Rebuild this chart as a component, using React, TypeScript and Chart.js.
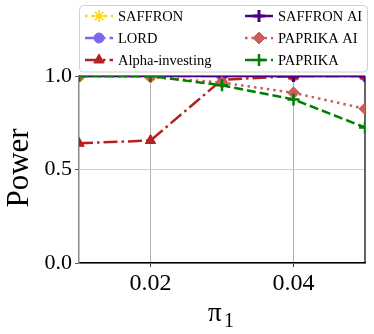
import React, { useEffect, useRef } from "react";
import { Chart, registerables } from "chart.js";
import { drawPoint } from "chart.js/helpers";

Chart.register(...registerables);

const xValues = [0.01, 0.02, 0.03, 0.04, 0.05];
const xTicks = [0.02, 0.04];
const yTicks = [0, 0.5, 1.0];

const saffron = [1.0, 1.0, 1.0, 1.0, 1.0];
const lord = [1.0, 1.0, 1.0, 1.0, 1.0];
const alphaInvesting = [0.64, 0.655, 0.98, 1.0, 1.0];
const saffronAI = [1.0, 1.0, 1.0, 1.0, 1.0];
const paprikaAI = [1.0, 0.995, 0.965, 0.91, 0.825];
const paprika = [1.0, 1.0, 0.95, 0.875, 0.725];

const seriesNames = ["SAFFRON", "LORD", "Alpha-investing", "SAFFRON AI", "PAPRIKA AI", "PAPRIKA"];
const seriesValues = [saffron, lord, alphaInvesting, saffronAI, paprikaAI, paprika];
const seriesColors = ["#FFD700", "#7B68EE", "#B22222", "#4B0082", "#CD5C5C", "#008000"];
const seriesDash = [[2.5, 4], [14, 4, 2.5, 4], [14, 4, 2.5, 4], [], [2.5, 4], [9, 4]];
const seriesMarker = ["star", "circle", "triangle", "cross", "rectRot", "cross"];
const seriesMarkerRadius = [6, 5, 6, 6, 6, 6];
const seriesMarkerBorder = [1.5, 1, 1, 3, 1, 2.5];

const SERIF = "'Liberation Serif', 'DejaVu Serif', serif";

const extrasPlugin = {
  id: "extras",
  beforeDatasetsDraw(chart: any) {
    const { ctx, chartArea } = chart;
    ctx.save();
    ctx.strokeStyle = "#000";
    ctx.lineWidth = 1.2;
    ctx.beginPath();
    ctx.moveTo(chartArea.right, chartArea.top);
    ctx.lineTo(chartArea.right, chartArea.bottom);
    ctx.moveTo(chartArea.left, chartArea.top);
    ctx.lineTo(chartArea.right, chartArea.top);
    ctx.stroke();
    ctx.restore();
  },
  afterDraw(chart: any) {
    const { ctx } = chart;
    ctx.save();
    ctx.fillStyle = "#000";
    ctx.font = `31px ${SERIF}`;
    ctx.translate(28, 168);
    ctx.rotate(-Math.PI / 2);
    ctx.textAlign = "center";
    ctx.textBaseline = "alphabetic";
    ctx.fillText("Power", 0, 0);
    ctx.restore();

    ctx.save();
    ctx.fillStyle = "#000";
    ctx.textAlign = "left";
    ctx.textBaseline = "alphabetic";
    ctx.font = `27px ${SERIF}`;
    ctx.fillText("π", 208, 321);
    ctx.font = `20px ${SERIF}`;
    ctx.fillText("1", 224, 327);
    ctx.restore();

    ctx.save();
    const bx = 79.5, by = 5.5, bw = 288, bh = 66.5, r = 4;
    ctx.beginPath();
    ctx.moveTo(bx + r, by);
    ctx.lineTo(bx + bw - r, by);
    ctx.arcTo(bx + bw, by, bx + bw, by + r, r);
    ctx.lineTo(bx + bw, by + bh - r);
    ctx.arcTo(bx + bw, by + bh, bx + bw - r, by + bh, r);
    ctx.lineTo(bx + r, by + bh);
    ctx.arcTo(bx, by + bh, bx, by + bh - r, r);
    ctx.lineTo(bx, by + r);
    ctx.arcTo(bx, by, bx + r, by, r);
    ctx.closePath();
    ctx.fillStyle = "rgba(255,255,255,0.85)";
    ctx.fill();
    ctx.strokeStyle = "#d0d0d0";
    ctx.lineWidth = 1;
    ctx.stroke();

    const rowsY = [16, 38, 60];
    const colX = [85, 245];
    const sampleW = 28;
    seriesNames.forEach((name, i) => {
      const col = Math.floor(i / 3);
      const row = i % 3;
      const x0 = colX[col];
      const y = rowsY[row];
      ctx.save();
      ctx.strokeStyle = seriesColors[i];
      ctx.lineWidth = 2.5;
      ctx.setLineDash(seriesDash[i]);
      ctx.beginPath();
      ctx.moveTo(x0, y);
      ctx.lineTo(x0 + sampleW, y);
      ctx.stroke();
      ctx.setLineDash([]);
      ctx.fillStyle = seriesColors[i];
      ctx.strokeStyle = seriesColors[i];
      ctx.lineWidth = seriesMarkerBorder[i];
      drawPoint(ctx, { pointStyle: seriesMarker[i], radius: seriesMarkerRadius[i], rotation: 0, borderWidth: seriesMarkerBorder[i] } as any, x0 + sampleW / 2, y);
      ctx.restore();
      ctx.fillStyle = "#000";
      ctx.font = `14.5px ${SERIF}`;
      ctx.textAlign = "left";
      ctx.textBaseline = "middle";
      ctx.fillText(name, x0 + sampleW + 5, y + 1);
    });
    ctx.restore();
  },
};

export default function App() {
  const canvasRef = useRef<HTMLCanvasElement | null>(null);

  useEffect(() => {
    document.body.style.margin = "0";
    const canvas = canvasRef.current;
    if (!canvas) return;
    const datasets = seriesNames.map((name, i) => ({
      label: name,
      data: xValues.map((x, j) => ({ x, y: seriesValues[i][j] })),
      borderColor: seriesColors[i],
      backgroundColor: seriesColors[i],
      borderWidth: 2.5,
      borderDash: seriesDash[i],
      pointStyle: seriesMarker[i],
      pointRadius: seriesMarkerRadius[i],
      pointBorderWidth: seriesMarkerBorder[i],
      pointBackgroundColor: seriesColors[i],
      pointBorderColor: seriesColors[i],
      fill: false,
      tension: 0,
      clip: 0,
      order: seriesNames.length - 1 - i,
    }));
    const chart = new Chart(canvas, {
      type: "line",
      data: { datasets },
      options: {
        animation: false,
        responsive: true,
        maintainAspectRatio: false,
        layout: { padding: { top: 76, right: 7, left: 0, bottom: 0 } },
        plugins: { legend: { display: false }, tooltip: { enabled: false } },
        events: [],
        scales: {
          x: {
            type: "linear",
            min: 0.01,
            max: 0.05,
            afterBuildTicks: (scale: any) => {
              scale.ticks = xTicks.map((v) => ({ value: v }));
            },
            afterFit: (scale: any) => {
              scale.height = 71;
              scale.paddingLeft = 0;
              scale.paddingRight = 0;
            },
            ticks: {
              callback: (v: any) => Number(v).toFixed(2),
              font: { family: SERIF, size: 24 },
              color: "#000",
              padding: 2,
              maxRotation: 0,
            },
            grid: { color: "#b0b0b0", lineWidth: 1, tickLength: 4, tickColor: "#333" },
            border: { display: true, color: "#000", width: 1.5 },
          },
          y: {
            type: "linear",
            min: 0,
            max: 1,
            afterBuildTicks: (scale: any) => {
              scale.ticks = yTicks.map((v) => ({ value: v }));
            },
            afterFit: (scale: any) => {
              scale.width = 79;
              scale.paddingTop = 0;
              scale.paddingBottom = 0;
            },
            ticks: {
              callback: (v: any) => Number(v).toFixed(1),
              font: { family: SERIF, size: 22 },
              color: "#000",
              padding: 3,
            },
            grid: { color: "#d0d0d0", lineWidth: 1, tickLength: 4, tickColor: "#555" },
            border: { display: true, color: "#888", width: 1.5 },
          },
        },
      },
      plugins: [extrasPlugin],
    } as any);
    return () => chart.destroy();
  }, []);

  return (
    <div style={{ position: "absolute", left: 0, top: 0, width: 374, height: 334 }}>
      <canvas ref={canvasRef} />
    </div>
  );
}
